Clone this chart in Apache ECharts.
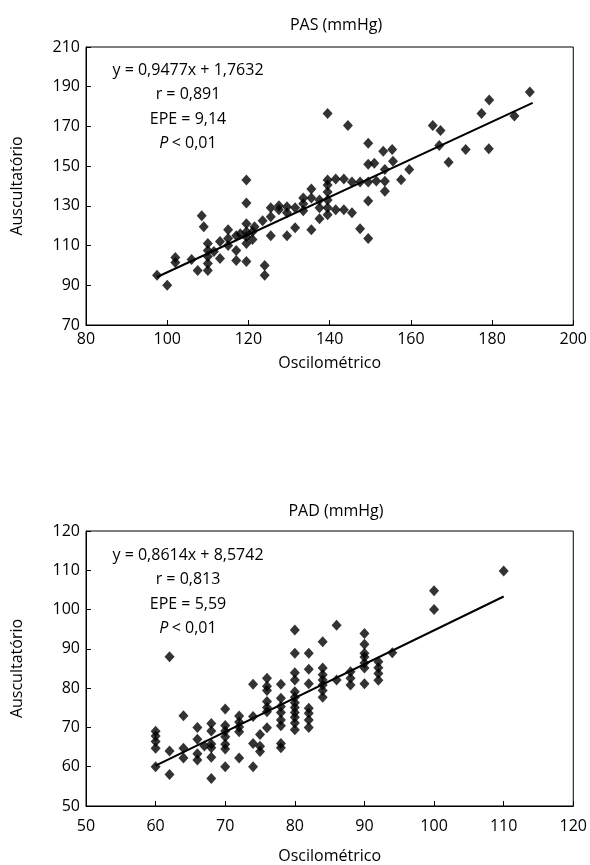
<!DOCTYPE html>
<html>
<head>
<meta charset="utf-8">
<script src="https://cdn.jsdelivr.net/npm/echarts@6/dist/echarts.min.js"></script>
<style>
html,body{margin:0;padding:0;background:#fff;}
#c{width:590px;height:865px;}
</style>
</head>
<body>
<div id="c"></div>
<script>
// ---- PAS (systolic) ----
const pasTitle = 'PAS (mmHg)';
const pasX = [97.5,100,102,102,106,107.5,108.5,109,110,110,110,110,110,111.5,113,113,115,115,115,117,117,117,118,119.5,119.5,119.5,119.5,119.5,119.5,119.5,121,121,
  121.5,123.5,124,124,125.5,125.5,125.5,127.5,127.5,129.5,129.5,129.5,131.5,131.5,
  133.5,133.5,133.5,135.5,135.5,135.5,137.5,137.5,137.5,139.5,139.5,139.5,139.5,139.5,139.5,139.5,
  141.5,141.5,143.5,143.5,144.5,145.5,145.5,147.5,147.5,149.5,149.5,151,149.5,149.5,149.5,
  151.5,153.2,153.6,153.6,153.6,155.4,155.6,157.6,159.6,165.4,167,167.3,169.3,173.5,177.4,179.2,179.3,185.5,189.3];
const pasY = [95,90,104,101.5,103,97.5,125,119.5,111,107.5,104.5,101,97.5,107,112,103.5,118,113.5,110,115,107.5,102.5,116,143,131.5,121,117,114.5,111,102,117,113,
  119.5,122.5,100,95,129,124.5,115,130,128,129.5,126.5,115,129,119,
  134,131,127.5,138.5,134,118,133,129,123.5,176.5,143,140.5,137,133,129,125.5,
  143.5,128,143.5,128,170.5,142,126.5,142,118.5,161.5,151,151.5,142,132.5,113.5,
  142.5,157.5,148.3,142.4,137.3,158.4,152.5,143.2,148.3,170.5,160.4,167.9,152,158.4,176.5,158.7,183.3,175.2,187.3];
const pasFit = {slope: 0.9477, intercept: 1.7632};
const pasFitX = [97.5, 190];
const pasText = ['y = 0,9477x + 1,7632', 'r = 0,891', 'EPE = 9,14', '< 0,01'];
const pasXTicks = [80, 200, 20];
const pasYTicks = [70, 210, 20];

// ---- PAD (diastolic) ----
const padTitle = 'PAD (mmHg)';
const padX = [60,60,60,60,60, 62,62,62, 64,64,64, 66,66,66,66,67, 68,68,68,68,68,68,
  70,70,70,70,70,70,70, 72,72,72,72,72, 74,74,74,74, 75,75,75,
  76,76,76,76,76,76,76, 78,78,78,78,78,78,78,78,
  80,80,80,80,80,80,80,80,80,80,80,80,
  82,82,82,82,82,82,82, 84,84,84,84,84,84,84, 86,86, 88,88,88,
  90,90,90,90,90,90,90, 92,92,92,92, 94, 100,100, 110];
const padY = [69,67.8,66.4,64.7,60, 88,64,58, 73,64.7,62.2, 70,67,63.3,61.7,65.3, 71,69.1,65.8,64.8,62.4,57,
  74.7,70.5,69.1,67.6,65.7,64.5,60, 72.9,71.4,70.1,68.9,62.2, 81,72.8,65.9,60, 68.2,65.2,63.9,
  82.5,80.5,79.4,76.6,75.1,74,69.9, 81,77.4,75.3,73.8,71.9,70.4,65.9,64.8,
  94.8,88.9,83.9,82.1,79.1,77.7,76.3,75.1,73.8,72.6,71.1,69.4,
  88.9,84.8,81.1,74.9,73.6,71.9,70, 91.8,85.1,83.4,82.1,80.8,79.4,77.7, 96,82.1, 84.2,82.5,80.8,
  93.9,91.2,88.9,87.9,86.4,85.1,81.1, 86.7,85.2,83.7,82, 89, 104.8,100, 109.8];
const padFit = {slope: 0.8614, intercept: 8.5742};
const padFitX = [60, 110];
const padText = ['y = 0,8614x + 8,5742', 'r = 0,813', 'EPE = 5,59', '< 0,01'];
const padXTicks = [50, 120, 10];
const padYTicks = [50, 120, 10];

const xName = 'Oscilométrico';
const yName = 'Auscultatório';

const FONT = 'Open Sans';
const FS = 16;
const LFS = 16;

function zip(a, b) { return a.map((v, i) => [v, b[i]]); }
function fitLine(xs, f) { return xs.map(x => [x, f.slope * x + f.intercept]); }

const grids = [
  {left: 86, right: 12, top: 47, height: 278},
  {left: 86, right: 12, top: 531, height: 275}
];

function xAxis(idx, t, margin, gap) {
  return {
    gridIndex: idx, type: 'value', min: t[0], max: t[1], interval: t[2],
    name: xName, nameLocation: 'middle', nameGap: gap,
    nameTextStyle: {fontFamily: FONT, fontSize: FS, color: '#000'},
    axisLine: {lineStyle: {color: '#000', width: 1}},
    axisTick: {inside: true, length: 5, lineStyle: {color: '#000'}},
    axisLabel: {fontFamily: FONT, fontSize: LFS, color: '#000', margin: margin},
    splitLine: {show: false}
  };
}
function yAxis(idx, t) {
  return {
    gridIndex: idx, type: 'value', min: t[0], max: t[1], interval: t[2],
    name: yName, nameLocation: 'middle', nameGap: 61,
    nameTextStyle: {fontFamily: FONT, fontSize: FS, color: '#000'},
    axisLine: {show: true, lineStyle: {color: '#000', width: 1}},
    axisTick: {show: true, inside: true, length: 5, lineStyle: {color: '#000'}},
    axisLabel: {fontFamily: FONT, fontSize: LFS, color: '#000', margin: 6},
    splitLine: {show: false}
  };
}

function annot(lines, top) {
  const cx = 188;
  const res = [];
  for (let i = 0; i < 3; i++) {
    res.push({type: 'text', x: cx, y: top + i * 24.5,
      style: {text: lines[i], fill: '#000', font: FS + 'px "' + FONT + '"', align: 'center', verticalAlign: 'middle', textAlign: 'center', textVerticalAlign: 'middle'}});
  }
  res.push({type: 'text', x: cx, y: top + 3 * 24.5,
    style: {rich: {i: {fontStyle: 'italic', fontFamily: FONT, fontSize: FS, fill: '#000'}, n: {fontFamily: FONT, fontSize: FS, fill: '#000'}},
      text: '{i|P} {n|' + lines[3] + '}', align: 'center', verticalAlign: 'middle', textAlign: 'center', textVerticalAlign: 'middle', fill: '#000'}});
  return res;
}

const chart = echarts.init(document.getElementById('c'), null, {renderer: 'canvas'});
chart.setOption({
  animation: false,
  backgroundColor: '#fff',
  title: [
    {text: pasTitle, left: 331, top: 12, textAlign: 'center', textStyle: {fontFamily: FONT, fontSize: FS, fontWeight: 'normal', color: '#000'}},
    {text: padTitle, left: 331, top: 498, textAlign: 'center', textStyle: {fontFamily: FONT, fontSize: FS, fontWeight: 'normal', color: '#000'}}
  ],
  grid: grids.map(g => Object.assign({show: true, borderColor: '#000', borderWidth: 1, backgroundColor: 'transparent'}, g)),
  xAxis: [xAxis(0, pasXTicks, 6, 30), xAxis(1, padXTicks, 12, 42)],
  yAxis: [yAxis(0, pasYTicks), yAxis(1, padYTicks)],
  series: [
    {type: 'scatter', xAxisIndex: 0, yAxisIndex: 0, data: zip(pasX, pasY), symbol: 'diamond', symbolSize: [10, 11], itemStyle: {color: '#000'}},
    {type: 'line', xAxisIndex: 0, yAxisIndex: 0, data: fitLine(pasFitX, pasFit), symbol: 'none', lineStyle: {color: '#000', width: 2}},
    {type: 'scatter', xAxisIndex: 1, yAxisIndex: 1, data: zip(padX, padY), symbol: 'diamond', symbolSize: [10, 11], itemStyle: {color: '#000'}},
    {type: 'line', xAxisIndex: 1, yAxisIndex: 1, data: fitLine(padFitX, padFit), symbol: 'none', lineStyle: {color: '#000', width: 2}}
  ],
  graphic: annot(pasText, 70).concat(annot(padText, 555))
});
</script>
</body>
</html>
